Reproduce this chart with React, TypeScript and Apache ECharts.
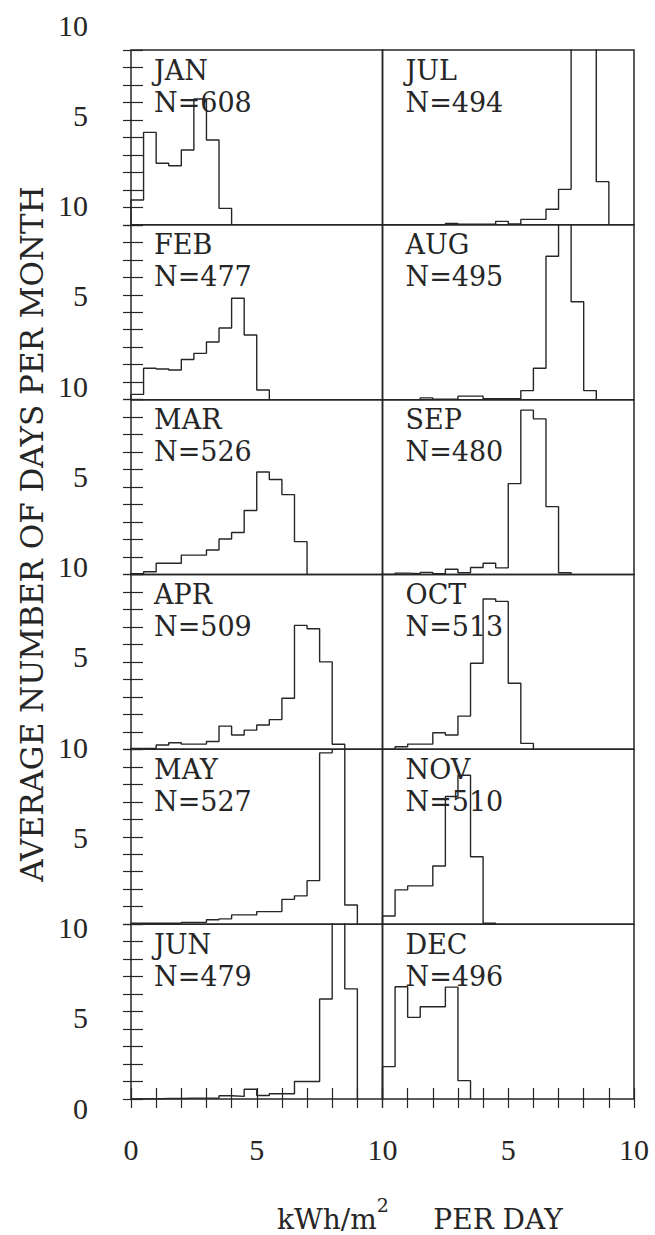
import React, { useEffect, useRef } from "react";
import * as echarts from "echarts";

// ---------------- data ----------------
const monthNames = ["JAN", "FEB", "MAR", "APR", "MAY", "JUN", "JUL", "AUG", "SEP", "OCT", "NOV", "DEC"];
const sampleCounts = [608, 477, 526, 509, 527, 479, 494, 495, 480, 513, 510, 496];
const binWidth = 0.5; // kWh/m2 per day, bins start at 0

const jan = [1.42, 5.29, 3.52, 3.38, 4.28, 7.2, 4.85, 0.94];
const feb = [0.3, 1.8, 1.75, 1.7, 2.3, 2.65, 3.3, 4.1, 5.8, 3.7, 0.55];
const mar = [0.05, 0.16, 0.64, 0.64, 1.11, 1.11, 1.4, 2.03, 2.4, 3.66, 5.86, 5.43, 4.57, 1.88];
const apr = [0.05, 0.05, 0.25, 0.38, 0.3, 0.3, 0.45, 1.33, 0.82, 1.1, 1.39, 1.7, 2.92, 7.09, 6.9, 5.0, 0.29];
const may = [0.05, 0.05, 0.05, 0.05, 0.1, 0.1, 0.25, 0.3, 0.53, 0.53, 0.72, 0.72, 1.42, 1.62, 2.49, 9.8, 11.1, 1.1];
const jun = [0, 0, 0.03, 0.03, 0.05, 0.05, 0.05, 0.19, 0.15, 0.56, 0.2, 0.3, 0.3, 1.0, 1.0, 5.72, 14.3, 6.3];
const jul = [0, 0, 0, 0, 0, 0.08, 0.03, 0.03, 0.03, 0.2, 0.05, 0.31, 0.31, 0.89, 2.03, 12.0, 12.6, 2.47];
const aug = [0, 0, 0, 0.1, 0.03, 0.03, 0.2, 0.2, 0.05, 0.05, 0.05, 0.52, 1.8, 8.2, 13.8, 5.6, 0.52];
const sep = [0, 0.08, 0.05, 0.12, 0.05, 0.3, 0.1, 0.4, 0.64, 0.38, 5.2, 9.4, 8.9, 3.88, 0.1];
const oct = [0, 0.15, 0.3, 0.3, 0.95, 0.82, 1.9, 4.92, 8.6, 8.46, 3.78, 0.34];
const nov = [0.47, 1.96, 2.19, 2.19, 3.33, 7.3, 8.52, 3.86, 0.05];
const dec = [1.85, 6.42, 4.67, 5.28, 5.28, 6.4, 1.05];

const monthlyBins = [jan, feb, mar, apr, may, jun, jul, aug, sep, oct, nov, dec];

// y tick labels, bottom to top along the whole left edge
const yTickLabels = ["0", "5", "10", "5", "10", "5", "10", "5", "10", "5", "10", "5", "10"];
const xTickLabelsLeft = [0, 5, 10];
const xTickLabelsRight = [5, 10];
const yAxisTitle = "AVERAGE NUMBER OF DAYS PER MONTH";
const xTitleMain = "kWh/m";
const xTitleSup = "2";
const xTitleRest = "PER DAY";

// ---------------- layout ----------------
const PLOT_L = 131;
const PLOT_R = 634;
const PLOT_T = 50;
const PLOT_B = 1099;
const COL_W = (PLOT_R - PLOT_L) / 2;
const ROW_H = (PLOT_B - PLOT_T) / 6;
const INK = "#262626";
const NUM_FONT = "Liberation Serif";
const TXT_FONT = "DejaVu Serif";

function stepPoints(values: number[]): number[][] {
  const pts: number[][] = [[0, 0]];
  values.forEach((v, i) => {
    pts.push([i * binWidth, v]);
    pts.push([(i + 1) * binWidth, v]);
  });
  pts.push([values.length * binWidth, 0]);
  return pts;
}

function buildOption() {
  const grids: any[] = [];
  const xAxes: any[] = [];
  const yAxes: any[] = [];
  const series: any[] = [];
  const graphics: any[] = [];
  const tickStyle = { color: INK, width: 1.2 };

  monthNames.forEach((m, idx) => {
    const col = Math.floor(idx / 6);
    const row = idx % 6;
    const left = PLOT_L + col * COL_W;
    const top = PLOT_T + row * ROW_H;
    const gi = grids.length;
    const isBottom = row === 5;
    grids.push({
      left,
      top,
      width: COL_W,
      height: ROW_H,
      show: true,
      borderColor: INK,
      borderWidth: 1.5,
      backgroundColor: "transparent",
      containLabel: false,
      outerBoundsMode: "none",
    });
    const labelSet = col === 0 ? xTickLabelsLeft : xTickLabelsRight;
    const xi = xAxes.length;
    xAxes.push({
      gridIndex: gi,
      type: "value",
      min: 0,
      max: 10,
      interval: 1,
      position: "bottom",
      show: isBottom,
      axisLine: { show: false, onZero: false },
      axisTick: { show: true, length: 9, lineStyle: tickStyle },
      splitLine: { show: false },
      axisLabel: {
        show: true,
        margin: 35,
        fontSize: 30,
        fontFamily: NUM_FONT,
        color: INK,
        formatter: (v: number) => (labelSet.indexOf(v) >= 0 ? String(v) : ""),
      },
    });
    if (isBottom) {
      xAxes.push({
        gridIndex: gi,
        type: "value",
        min: 0,
        max: 10,
        interval: 1,
        position: "bottom",
        axisLine: { show: false, onZero: false },
        axisTick: { show: true, inside: true, length: 11, lineStyle: tickStyle },
        splitLine: { show: false },
        axisLabel: { show: false },
      });
    }
    const yi = yAxes.length;
    yAxes.push({
      gridIndex: gi,
      type: "value",
      min: 0,
      max: 10,
      interval: 1,
      position: "left",
      show: col === 0,
      axisLine: { show: false, onZero: false },
      axisTick: { show: true, length: 8, lineStyle: tickStyle },
      splitLine: { show: false },
      axisLabel: { show: false },
    });
    if (col === 0) {
      yAxes.push({
        gridIndex: gi,
        type: "value",
        min: 0,
        max: 10,
        interval: 1,
        position: "left",
        axisLine: { show: false, onZero: false },
        axisTick: { show: true, inside: true, length: 12, lineStyle: tickStyle },
        splitLine: { show: false },
        axisLabel: { show: false },
      });
    }
    series.push({
      type: "line",
      xAxisIndex: xi,
      yAxisIndex: yi,
      data: stepPoints(monthlyBins[idx]),
      symbol: "none",
      clip: true,
      silent: true,
      lineStyle: { color: INK, width: 1.4 },
    });
    graphics.push({
      type: "text",
      x: left + 23,
      y: top + 4,
      silent: true,
      style: {
        text: `${m}\nN=${sampleCounts[idx]}`,
        font: `27px "${TXT_FONT}"`,
        fill: INK,
        lineHeight: 32,
        align: "left",
        verticalAlign: "top",
        textAlign: "left",
        textVerticalAlign: "top",
      },
    });
  });

  // dummy grid carrying the y tick labels of the whole left edge
  const lg = grids.length;
  grids.push({ left: PLOT_L, top: 25, width: 1, height: 1083, show: false, containLabel: false, outerBoundsMode: "none" });
  xAxes.push({ gridIndex: lg, type: "value", min: 0, max: 1, show: false });
  yAxes.push({
    gridIndex: lg,
    type: "value",
    min: 0,
    max: yTickLabels.length - 1,
    interval: 1,
    position: "left",
    axisLine: { show: false, onZero: false },
    axisTick: { show: false },
    splitLine: { show: false },
    axisLabel: {
      show: true,
      margin: 43,
      fontSize: 30,
      fontFamily: NUM_FONT,
      color: INK,
      formatter: (v: number) => yTickLabels[v] ?? "",
    },
  });

  graphics.push({
    type: "text",
    x: 31.5,
    y: 534,
    rotation: Math.PI / 2,
    silent: true,
    style: {
      text: yAxisTitle,
      font: `31px "${TXT_FONT}"`,
      fill: INK,
      align: "center",
      verticalAlign: "middle",
      textAlign: "center",
      textVerticalAlign: "middle",
    },
  });

  graphics.push({
    type: "text",
    x: 277,
    y: 1233,
    silent: true,
    style: {
      text: `{a|${xTitleMain}}{s|${xTitleSup}}{a|     ${xTitleRest}}`,
      fill: INK,
      align: "left",
      verticalAlign: "bottom",
      textAlign: "left",
      textVerticalAlign: "bottom",
      rich: {
        a: { fontSize: 28, fontFamily: TXT_FONT, color: INK, lineHeight: 38, verticalAlign: "bottom" },
        s: { fontSize: 19, fontFamily: TXT_FONT, color: INK, lineHeight: 20, verticalAlign: "top" },
      },
    },
  });

  return {
    animation: false,
    backgroundColor: "#ffffff",
    grid: grids,
    xAxis: xAxes,
    yAxis: yAxes,
    series,
    graphic: graphics,
  };
}

export default function App() {
  const ref = useRef<HTMLDivElement>(null);
  useEffect(() => {
    if (!ref.current) return;
    const chart = echarts.init(ref.current, null, { renderer: "svg" });
    chart.setOption(buildOption() as any);
    return () => {
      chart.dispose();
    };
  }, []);
  return (
    <div
      ref={ref}
      style={{ position: "absolute", left: 0, top: 0, width: 655, height: 1235, background: "#fff" }}
    />
  );
}
